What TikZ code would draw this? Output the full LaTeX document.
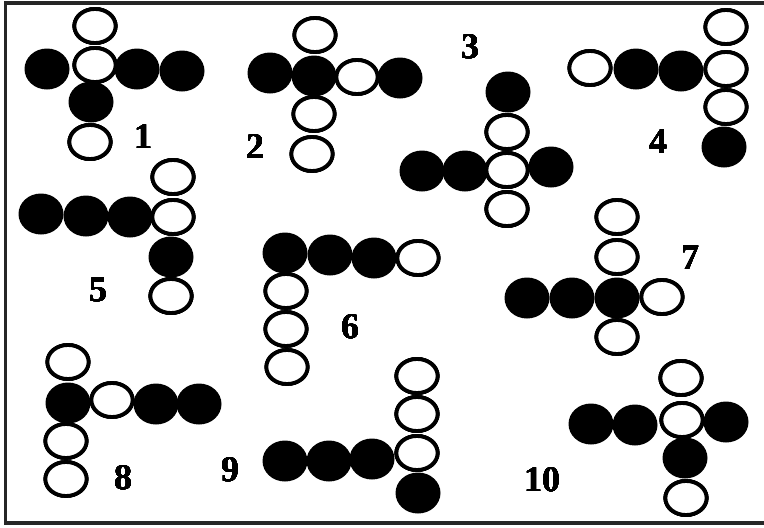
\documentclass[tikz,border=0pt]{standalone}
\usepackage{fontspec}
\setmainfont{Liberation Serif}

\tikzset{
  full/.style={fill=black},
  hollow/.style={draw=black, line width=3.8pt, fill=white},
  num/.style={font=\fontsize{36}{36}\selectfont\bfseries, inner sep=0pt}
}
\newcommand{\fullbead}[2]{\fill[full] (#1,#2) ellipse [x radius=22.5pt, y radius=20.5pt];}
\newcommand{\openbead}[2]{\draw[hollow] (#1,#2) ellipse [x radius=20.6pt, y radius=17pt];}

\begin{document}
\begin{tikzpicture}[x=1pt, y=-1pt]
  \useasboundingbox (0,0) rectangle (764,528);
  % Frame (right side runs off the page)
  \draw[line width=3.8pt, black!85] (770,3.3) -- (5.5,3.3) -- (5.5,523) -- (770,523);
  % Figure 1
  \foreach \x/\y in {47/69, 137/69, 182/71, 91/102} \fullbead{\x}{\y}
  \foreach \x/\y in {95/26, 95/65, 90/142} \openbead{\x}{\y}
  \node[num] (n1) at (143,137) {1};
  % Figure 2
  \foreach \x/\y in {270/73, 314/76, 400/78} \fullbead{\x}{\y}
  \foreach \x/\y in {315/35, 357/77, 314/114, 312/154} \openbead{\x}{\y}
  \node[num] (n2) at (255,147) {2};
  % Figure 3
  \foreach \x/\y in {508/92, 422/171, 465/171, 551/167} \fullbead{\x}{\y}
  \foreach \x/\y in {507/132, 507/170, 507/209} \openbead{\x}{\y}
  \node[num] (n3) at (470,47) {3};
  % Figure 4
  \foreach \x/\y in {636/69, 681/71, 724/147} \fullbead{\x}{\y}
  \foreach \x/\y in {590/68, 726/27, 726/69, 726/107} \openbead{\x}{\y}
  \node[num] (n4) at (658,142) {4};
  % Figure 5
  \foreach \x/\y in {41/214, 86/216, 130/217, 171/257} \fullbead{\x}{\y}
  \foreach \x/\y in {173/177, 173/217, 171/296} \openbead{\x}{\y}
  \node[num] (n5) at (98,290) {5};
  % Figure 6
  \foreach \x/\y in {285/253, 330/255, 374/258} \fullbead{\x}{\y}
  \foreach \x/\y in {418/258, 286/291, 286/329, 287/367} \openbead{\x}{\y}
  \node[num] (n6) at (350,327) {6};
  % Figure 7
  \foreach \x/\y in {527/298, 572/298, 617/298} \fullbead{\x}{\y}
  \foreach \x/\y in {617/217, 617/257, 617/337, 662/297} \openbead{\x}{\y}
  \node[num] (n7) at (690,258) {7};
  % Figure 8
  \foreach \x/\y in {68/403, 156/404, 199/404} \fullbead{\x}{\y}
  \foreach \x/\y in {68/362, 112/400, 66/441, 66/479} \openbead{\x}{\y}
  \node[num] (n8) at (123,478) {8};
  % Figure 9
  \foreach \x/\y in {285/461, 329/461, 372/459, 418/493} \fullbead{\x}{\y}
  \foreach \x/\y in {417/376, 417/414, 417/453} \openbead{\x}{\y}
  \node[num] (n9) at (230,470) {9};
  % Figure 10
  \foreach \x/\y in {591/424, 635/425, 726/422, 685/458} \fullbead{\x}{\y}
  \foreach \x/\y in {681/378, 682/420, 686/498} \openbead{\x}{\y}
  \node[num] (n10) at (542,480) {10};
\end{tikzpicture}
\end{document}
